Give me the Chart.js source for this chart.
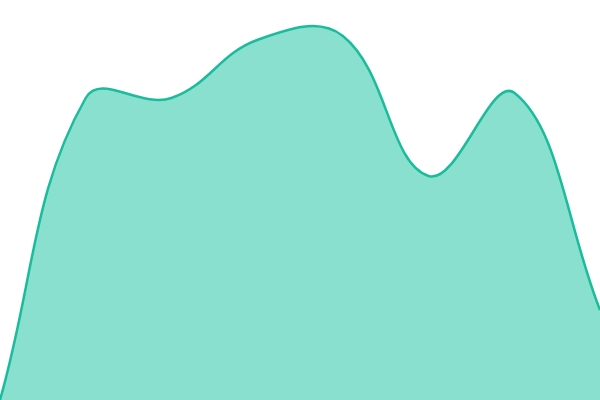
<!DOCTYPE html>
<html>
<head>
<meta charset="utf-8">
<script src="https://cdn.jsdelivr.net/npm/chart.js@4"></script>
<style>
    html, body { margin: 0; padding: 0; background: #fff; }
    #wrap { width: 600px; height: 400px; }
</style>
</head>
<body>
<div id="wrap"><canvas id="areaChart"></canvas></div>
<script>
// values (0 = bottom edge, 100 = top edge)
const labels = ['1', '2', '3', '4', '5', '6', '7', '8'];
const values = [0, 75.5, 75.5, 90, 91, 56, 76.8, 22.5];

const ctx = document.getElementById('areaChart').getContext('2d');

new Chart(ctx, {
    type: 'line',
    data: {
        labels: labels,
        datasets: [
            {
                data: values,
                borderColor: '#1abc9c',
                backgroundColor: 'rgba(22, 193, 160, 0.5)',
                borderWidth: 2.5,
                pointRadius: 0,
                tension: 0.4,
                fill: true,
            },
        ],
    },
    options: {
        responsive: true,
        maintainAspectRatio: false,
        animation: false,
        layout: { padding: 0 },
        plugins: {
            legend: { display: false },
            tooltip: { enabled: false },
        },
        scales: {
            x: { display: false },
            y: { display: false, min: 0, max: 100 },
        },
    },
});
</script>
</body>
</html>
